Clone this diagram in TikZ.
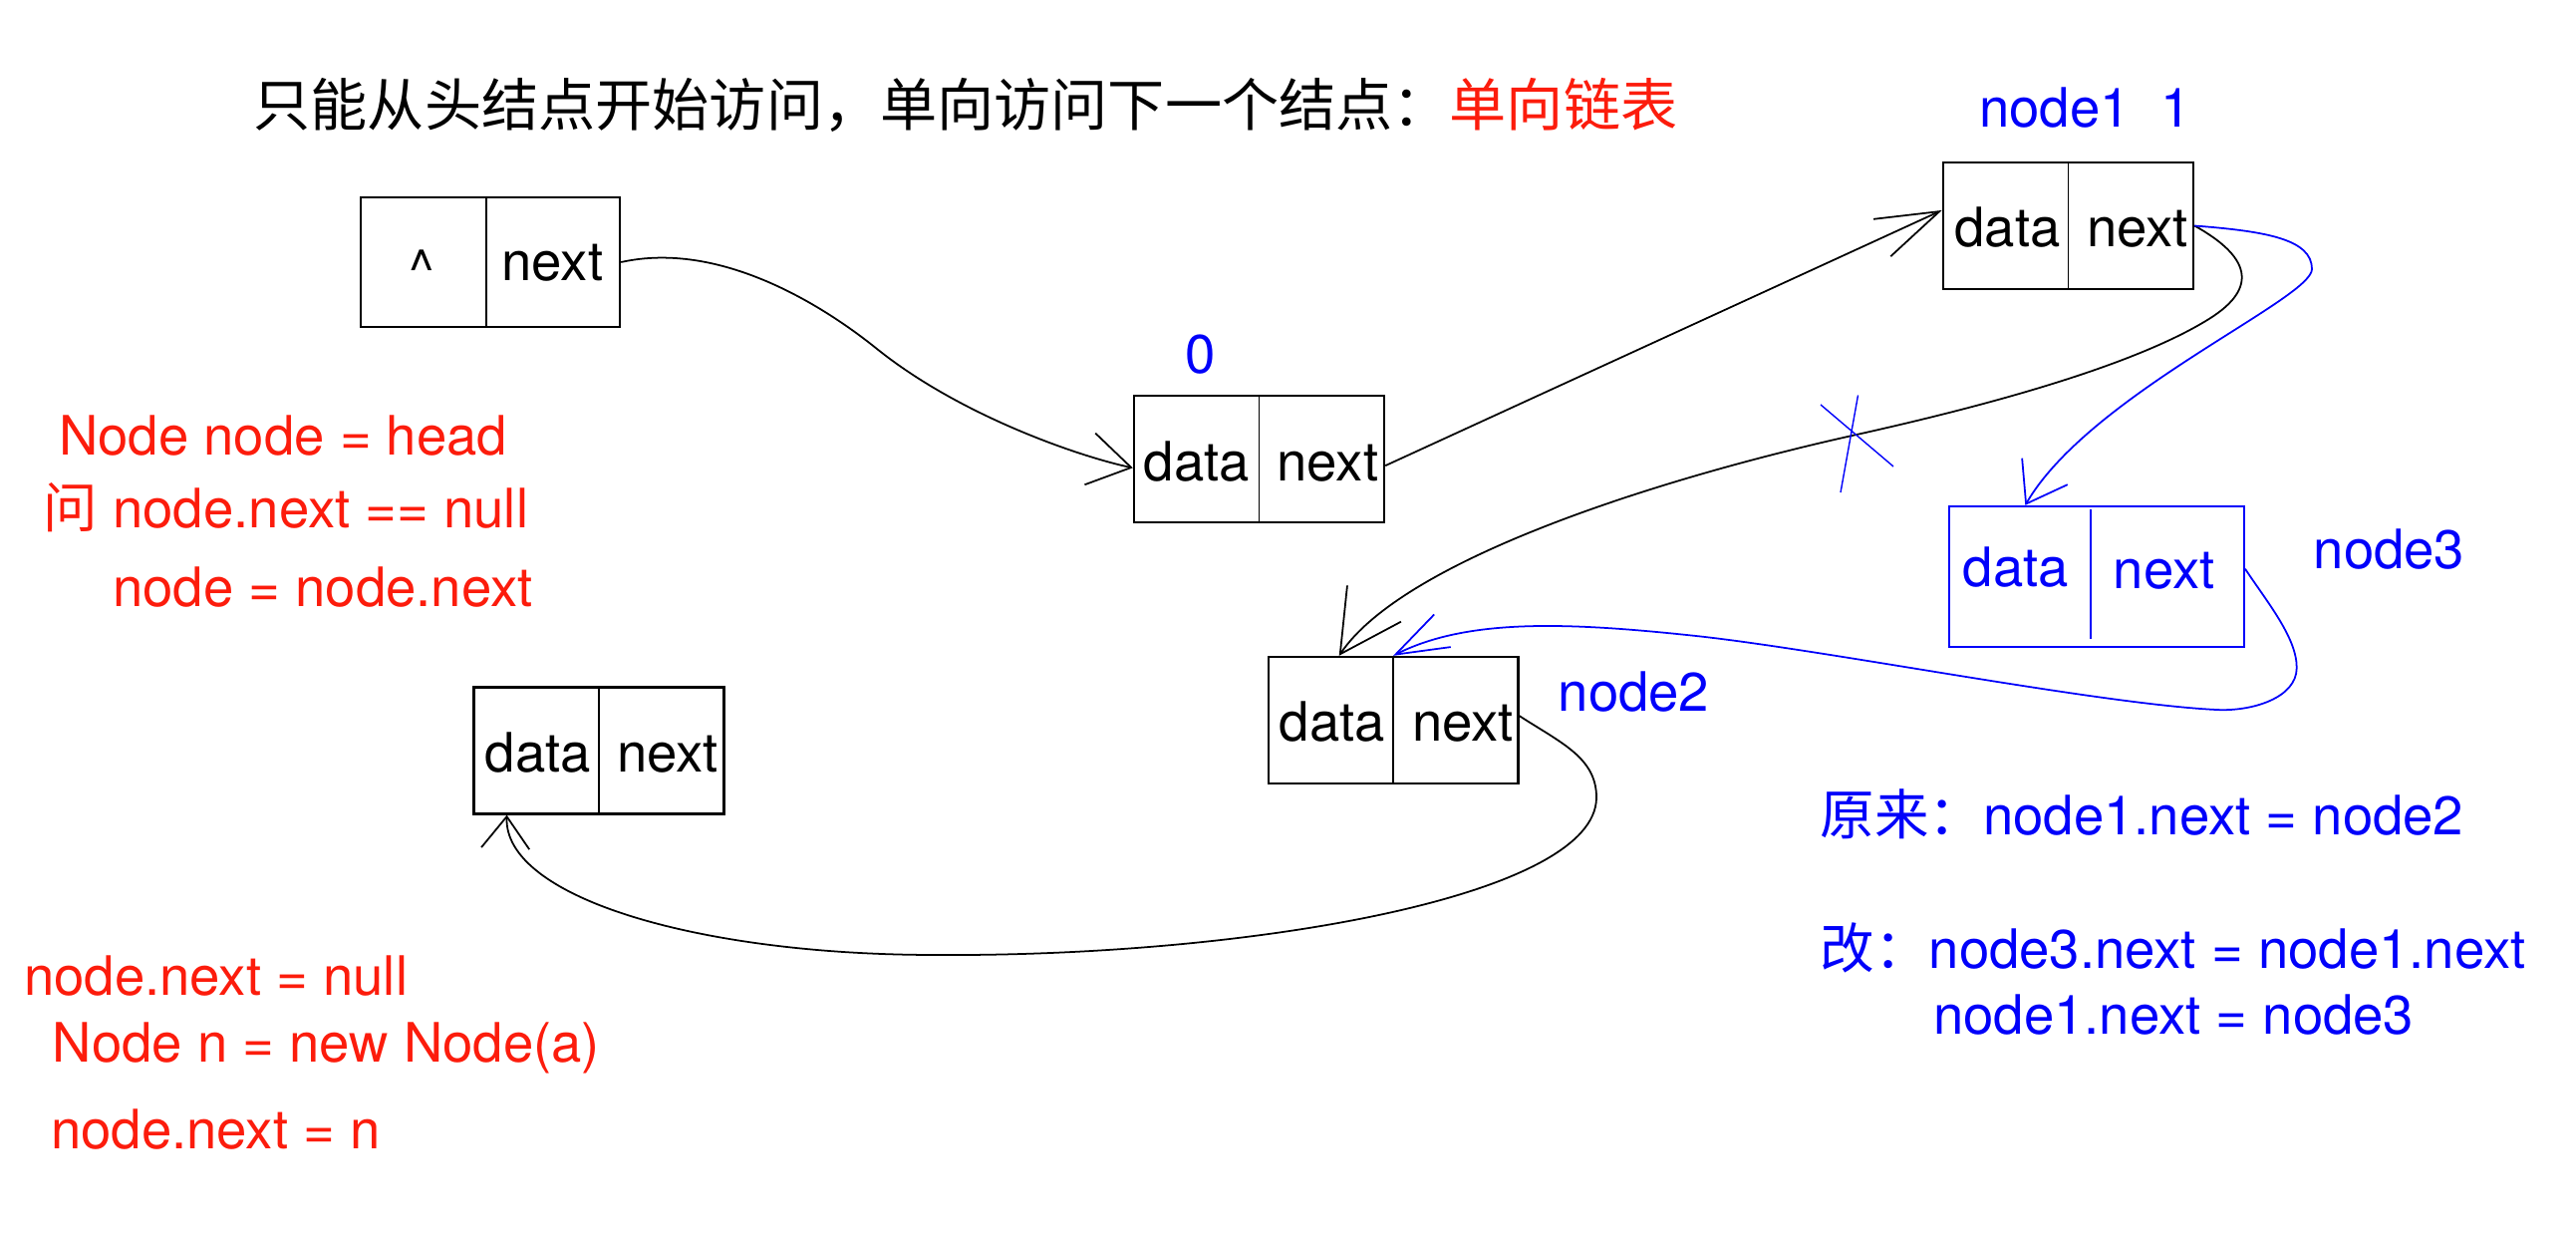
\documentclass[tikz,border=0pt]{standalone}
\usepackage{fontspec}
\setmainfont{TeX Gyre Heros}
\newfontfamily\cjk{Noto Sans CJK SC}
\usetikzlibrary{arrows.meta}
\definecolor{myred}{RGB}{252,28,12}
\definecolor{myblue}{RGB}{0,0,250}
\begin{document}
\begin{tikzpicture}[x=0.01cm,y=-0.01cm,
  box/.style 2 args={draw, line width=0.65pt, inner sep=0pt, minimum width=#1, minimum height=#2},
  divider/.style={line width=0.45pt},
  txt/.style={anchor=base, inner sep=0pt, font=\fontsize{15.5pt}{18pt}\selectfont},
  lbl/.style={anchor=base west, inner sep=0pt, font=\fontsize{15.5pt}{18pt}\selectfont},
  link/.style={line width=0.5pt},
  barb/.style 2 args={-{Straight Barb[length=#1,width=#2]}}]
\useasboundingbox (0,0) rectangle (2585,1249);

% title
\node[anchor=base west, inner sep=0pt, font=\cjk\fontsize{16.25pt}{20pt}\selectfont] (title) at (254,127)
  {只能从头结点开始访问，单向访问下一个结点：\textcolor{myred}{单向链表}};

% boxes
\node[box={2.60cm}{1.30cm}] (h) at (492,263) {};
\draw[divider] ([xshift=-0.04cm]h.north) -- ([xshift=-0.04cm]h.south);
\node[txt] (h-d) at (423,290) {\textasciicircum};
\node[txt] (h-n) at (554.5,282) {next};

\node[box={2.51cm}{1.27cm}] (n0) at (1263.5,460.5) {};
\draw[divider] (n0.north) -- (n0.south);
\node[txt] (n0-d) at (1201,482) {data};
\node[txt] (n0-n) at (1332.5,482) {next};

\node[box={2.51cm}{1.27cm}] (n1) at (2075.5,226.5) {};
\draw[divider] (n1.north) -- (n1.south);
\node[txt] (n1-d) at (2014.6,248) {data};
\node[txt] (n1-n) at (2145,248) {next};

\node[box={2.955cm}{1.41cm}, myblue] (n3) at (2104,578.5) {};
\draw[divider, myblue, shorten <=0.04cm, shorten >=0.09cm] ([xshift=-0.06cm]n3.north) -- ([xshift=-0.06cm]n3.south);
\node[txt, myblue] (n3-d) at (2023,588) {data};
\node[txt, myblue] (n3-n) at (2171.5,590) {next};

\node[box={2.506cm}{1.27cm}] (n2) at (1398,722.5) {};
\draw[divider] (n2.north) -- (n2.south);
\node[txt] (n2-d) at (1337,743) {data};
\node[txt] (n2-n) at (1468,743) {next};

\node[box={2.51cm}{1.27cm}] (nb) at (601,753) {};
\draw[divider] (nb.north) -- (nb.south);
\node[txt] (nb-d) at (540,774) {data};
\node[txt] (nb-n) at (670,774) {next};

% labels
\node[txt, myblue] (l0) at (1205,375) {0};
\node[lbl, myblue] (l1) at (1985.5,128) {node1~~1};
\node[lbl, myblue] (l2) at (1563,713) {node2};
\node[lbl, myblue] (l3) at (2321,570) {node3};

\node[lbl, myred] (t1) at (58.5,456) {Node node = head};
\node[lbl, myred] (t2) at (43,529) {{\cjk 问} node.next == null};
\node[lbl, myred] (t3) at (112.5,608) {node = node.next};
\node[lbl, myred] (t4) at (23.5,998) {node.next = null};
\node[lbl, myred] (t5) at (52,1065) {Node n = new Node(a)};
\node[lbl, myred] (t6) at (50.5,1152) {node.next = n};

\node[lbl, myblue] (b1) at (1826,837) {{\cjk 原来：}node1.next = node2};
\node[lbl, myblue] (b2) at (1826,971) {{\cjk 改：}node3.next = node1.next};
\node[lbl, myblue] (b3) at (1939.5,1037) {node1.next = node3};

% connectors
\draw[link, barb={12pt}{15pt}] (h.east) .. controls (722,241) and (825.4,306) .. (880,350)
  .. controls (965.8,418.75) and (1087,459) .. (n0.184);
\draw[link, barb={18pt}{11.7pt}] (n0.357.7) -- (n1.173);
\draw[link, barb={17.4pt}{18.5pt}] (n1.east) .. controls (2257,257) and (2267.7,288.2) .. (2216.7,320)
  .. controls (2131.7,373) and (1957.6,415) .. (1860,436.7)
  .. controls (1664.8,480.1) and (1408.9,561) .. (n2.130.6);
\draw[link, myblue, barb={10.7pt}{15pt}] (n1.east) .. controls (2274,232) and (2320,240) .. (2320,270)
  .. controls (2320,300) and (2096.7,395.7) .. (n3.135.7);
\draw[link, myblue, barb={15pt}{10.4pt}] (n3.3) .. controls (2275,604) and (2305,640) .. (2304.7,670)
  .. controls (2304.7,700) and (2260,714) .. (2224,712)
  .. controls (2104,706) and (1832,652) .. (1702,638)
  .. controls (1572,624) and (1472.1,620.3) .. (n2.north);
\draw[link, barb={9.1pt}{13.7pt}] (n2.2.5) .. controls (1566,745) and (1602,760) .. (1602,800)
  .. controls (1602,900) and (1250,960) .. (939,958)
  .. controls (700,958) and (505,900) .. (nb.215);

% cross mark
\draw[myblue, line width=0.4pt] (1827,406) -- (1900,468) (1864.5,396.5) -- (1847,494);
\end{tikzpicture}
\end{document}
